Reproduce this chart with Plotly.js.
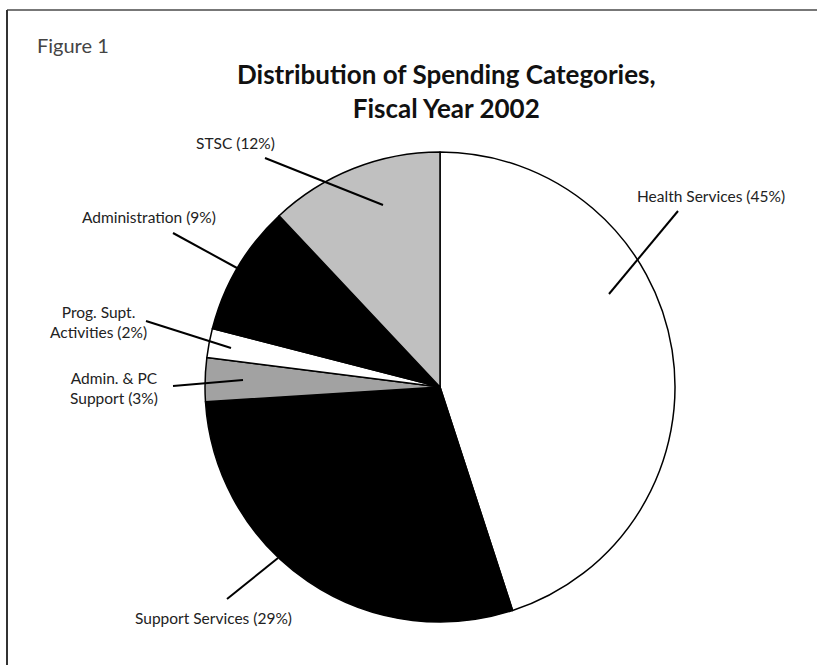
<!DOCTYPE html>
<html>
<head>
<meta charset="utf-8">
<script src="https://cdn.plot.ly/plotly-3.0.1.min.js"></script>
<style>html,body{margin:0;padding:0;background:#fff;}#chart{width:817px;height:665px;}</style>
</head>
<body>
<div id="chart"></div>
<script>
// ---- data ----
const categories = ["Health Services", "Support Services", "Admin. & PC Support", "Prog. Supt. Activities", "Administration", "STSC"];
const shares = [45, 29, 3, 2, 9, 12];
const sliceColors = ["#ffffff", "#000000", "#a2a2a2", "#ffffff", "#000000", "#c0c0c0"];
const labelTexts = ["Health Services (45%)", "Support Services (29%)", "Admin. & PC<br>Support (3%)", "Prog. Supt.<br>Activities (2%)", "Administration (9%)", "STSC (12%)"];

// ---- layout helpers (pixel positions of label text and leader lines) ----
const W = 817, H = 665;
const px = x => x / W;
const py = y => 1 - y / H;
const labelPos = [
  {x: 635, y: 196, xa: "left"},
  {x: 294, y: 618, xa: "right"},
  {x: 114, y: 388, xa: "center"},
  {x: 98,  y: 322, xa: "center"},
  {x: 149, y: 217, xa: "center"},
  {x: 236, y: 143, xa: "center"}
];
const leaders = [
  [609, 294, 678, 211],
  [278, 558, 227, 599],
  [243, 380, 173, 386],
  [231, 348, 146, 321],
  [237, 268, 173, 233],
  [383, 205, 265, 158]
];

const labelFont = {family: "Lato, 'Open Sans', sans-serif", size: 15.5, color: "#222"};

const annotations = labelTexts.map((t, i) => ({
  text: t, xref: "paper", yref: "paper",
  x: px(labelPos[i].x), y: py(labelPos[i].y),
  xanchor: labelPos[i].xa, yanchor: "middle", align: "center",
  showarrow: false, font: labelFont
}));
annotations.push({
  text: "Figure 1", xref: "paper", yref: "paper", x: px(35), y: py(45),
  xanchor: "left", yanchor: "middle", showarrow: false,
  font: {family: "Lato, 'Open Sans', sans-serif", size: 20, color: "#444"}
});
annotations.push({
  text: "<b>Distribution of Spending Categories,</b><br><b>Fiscal Year 2002</b>", xref: "paper", yref: "paper",
  x: px(446), y: py(91), xanchor: "center", yanchor: "middle", align: "center", showarrow: false,
  font: {family: "Lato, 'Open Sans', sans-serif", size: 26, color: "#111"}
});

const shapes = leaders.map(l => ({
  type: "line", xref: "paper", yref: "paper",
  x0: px(l[0]), y0: py(l[1]), x1: px(l[2]), y1: py(l[3]),
  line: {color: "#000", width: 2}
}));
// frame lines (top and left)
shapes.push({type: "line", xref: "paper", yref: "paper", x0: px(7), y0: py(10), x1: 1, y1: py(10), line: {color: "#777", width: 2}});
shapes.push({type: "line", xref: "paper", yref: "paper", x0: px(7), y0: py(10), x1: px(7), y1: 0, line: {color: "#333", width: 2}});

const trace = {
  type: "pie",
  labels: categories,
  values: shares,
  sort: false,
  direction: "clockwise",
  rotation: 0,
  textinfo: "none",
  hoverinfo: "label+percent",
  marker: {colors: sliceColors, line: {color: "#000", width: 1.5}},
  domain: {x: [px(205), px(675)], y: [py(622), py(152)]},
  showlegend: false
};

const layout = {
  width: W, height: H,
  margin: {l: 0, r: 0, t: 0, b: 0},
  paper_bgcolor: "#fff",
  showlegend: false,
  annotations: annotations,
  shapes: shapes
};

Plotly.newPlot("chart", [trace], layout, {displayModeBar: false, staticPlot: true});
</script>
</body>
</html>
